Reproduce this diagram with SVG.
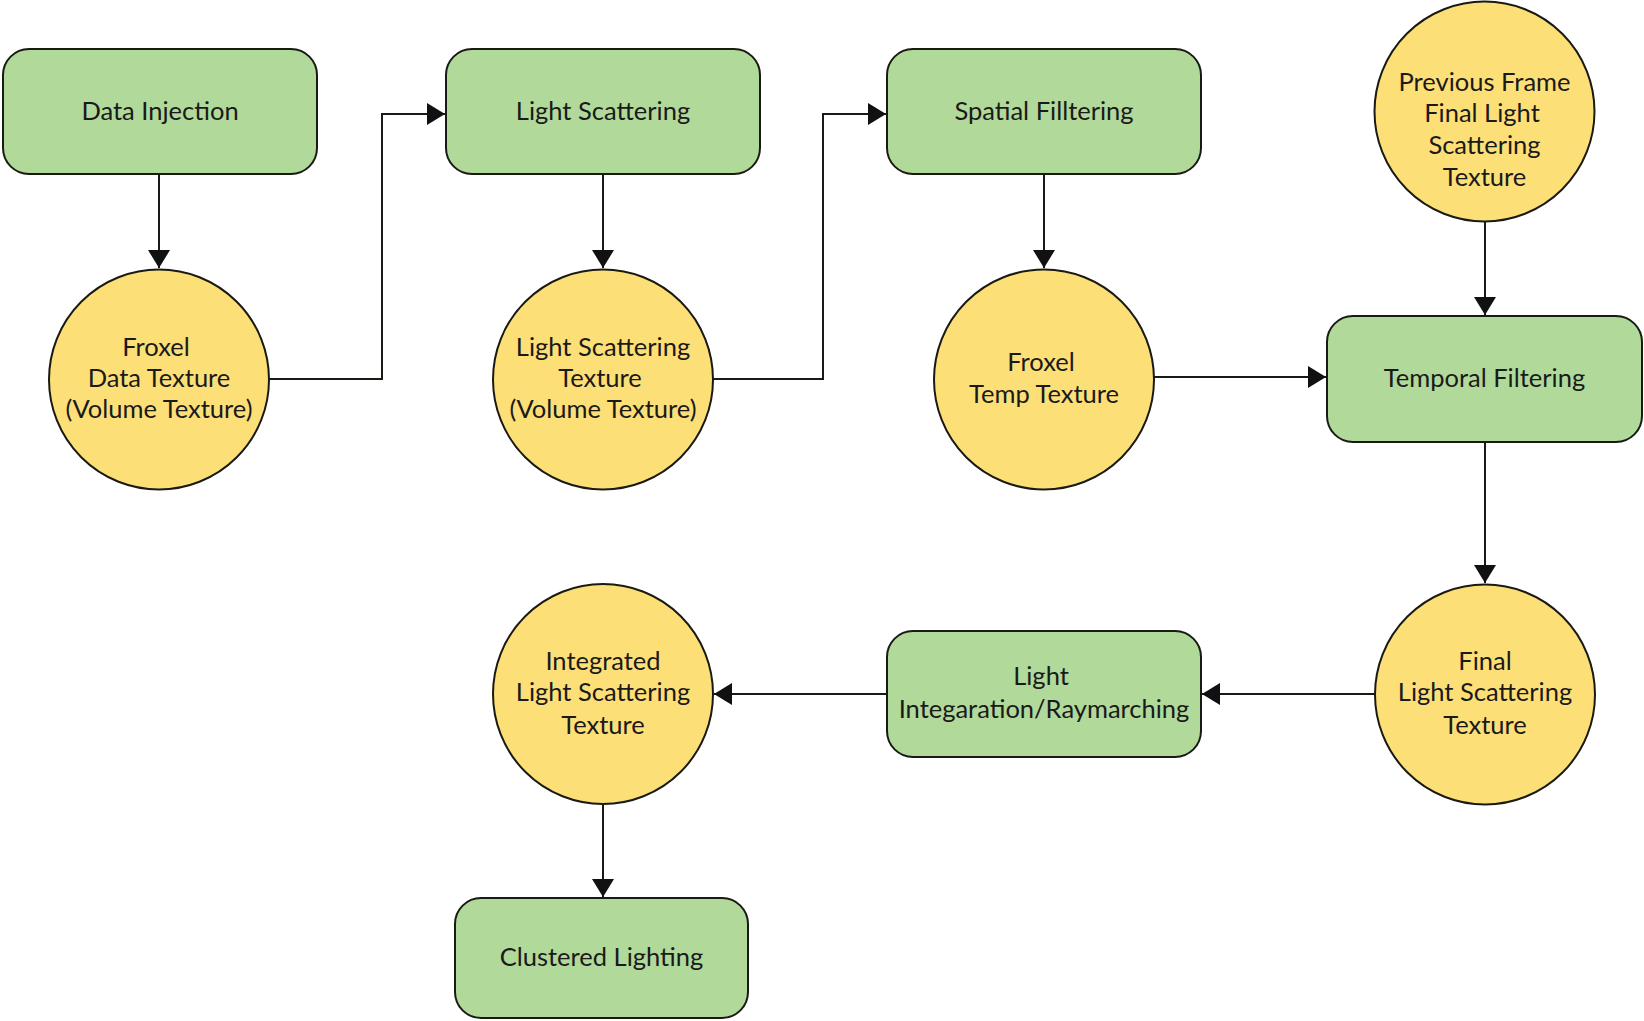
<svg xmlns="http://www.w3.org/2000/svg" width="1644" height="1021" viewBox="0 0 1644 1021">
<style>
.box{fill:#b0d99a;stroke:#1a1a14;stroke-width:2}
.circ{fill:#fddf77;stroke:#1a1a14;stroke-width:2}
.lbl{font-family:Lato,"Liberation Sans",sans-serif;font-size:25.5px;fill:#1a1a1a;text-anchor:middle}
.edge{fill:none;stroke:#1a1a14;stroke-width:2;marker-end:url(#arr)}
</style>
<defs>
<marker id="arr" markerUnits="userSpaceOnUse" markerWidth="18" markerHeight="22" refX="18" refY="11" orient="auto">
<path d="M0,0 L18,11 L0,22 z" fill="#111"/>
</marker>
</defs>
<rect width="1644" height="1021" fill="#fff"/>
<g id="connectors">
<path class="edge" d="M159,174 V268"/>
<path class="edge" d="M269,379 H382 V114 H445"/>
<path class="edge" d="M603,174 V268"/>
<path class="edge" d="M713,379 H823 V114 H886"/>
<path class="edge" d="M1044,174 V268"/>
<path class="edge" d="M1154,377 H1326"/>
<path class="edge" d="M1485,222 V315"/>
<path class="edge" d="M1485,442 V583"/>
<path class="edge" d="M1375,694 H1202"/>
<path class="edge" d="M887,694 H714"/>
<path class="edge" d="M603,804 V897"/>
</g>
<g id="data-injection">
<rect class="box" x="3" y="49" width="314" height="125" rx="26"/>
<text class="lbl" x="160" y="120">Data Injection</text>
</g>
<g id="light-scattering">
<rect class="box" x="446" y="49" width="314" height="125" rx="26"/>
<text class="lbl" x="603" y="120">Light Scattering</text>
</g>
<g id="spatial-filltering">
<rect class="box" x="887" y="49" width="314" height="125" rx="26"/>
<text class="lbl" x="1044" y="120">Spatial Filltering</text>
</g>
<g id="previous-frame">
<circle class="circ" cx="1484.5" cy="111.5" r="110"/>
<text class="lbl" x="1484.5" y="90.5">Previous Frame</text>
<text class="lbl" x="1482" y="121.5">Final Light</text>
<text class="lbl" x="1484.5" y="153.5">Scattering</text>
<text class="lbl" x="1484.5" y="185.5">Texture</text>
</g>
<g id="froxel-data-texture">
<circle class="circ" cx="159" cy="379.5" r="110"/>
<text class="lbl" x="156" y="355.5">Froxel</text>
<text class="lbl" x="159" y="386.5">Data Texture</text>
<text class="lbl" x="159" y="417.5">(Volume Texture)</text>
</g>
<g id="light-scattering-texture">
<circle class="circ" cx="603" cy="379.5" r="110"/>
<text class="lbl" x="603" y="355.5">Light Scattering</text>
<text class="lbl" x="600" y="386.5">Texture</text>
<text class="lbl" x="603" y="417.5">(Volume Texture)</text>
</g>
<g id="froxel-temp-texture">
<circle class="circ" cx="1044" cy="379.5" r="110"/>
<text class="lbl" x="1041" y="370.5">Froxel</text>
<text class="lbl" x="1044" y="402.5">Temp Texture</text>
</g>
<g id="temporal-filtering">
<rect class="box" x="1327" y="316" width="315" height="126" rx="26"/>
<text class="lbl" x="1484.5" y="386.5">Temporal Filtering</text>
</g>
<g id="final-light-scattering-texture">
<circle class="circ" cx="1485" cy="694.5" r="110"/>
<text class="lbl" x="1485" y="669.5">Final</text>
<text class="lbl" x="1485" y="700.5">Light Scattering</text>
<text class="lbl" x="1485" y="733.5">Texture</text>
</g>
<g id="light-integaration">
<rect class="box" x="887" y="631" width="314" height="126" rx="26"/>
<text class="lbl" x="1041" y="684.5">Light</text>
<text class="lbl" x="1044" y="717.5">Integaration/Raymarching</text>
</g>
<g id="integrated-light-scattering-texture">
<circle class="circ" cx="603" cy="694" r="110"/>
<text class="lbl" x="603" y="669.5">Integrated</text>
<text class="lbl" x="603" y="700.5">Light Scattering</text>
<text class="lbl" x="603" y="733.5">Texture</text>
</g>
<g id="clustered-lighting">
<rect class="box" x="455" y="898" width="293" height="120" rx="26"/>
<text class="lbl" x="601.5" y="965.5">Clustered Lighting</text>
</g>
</svg>
